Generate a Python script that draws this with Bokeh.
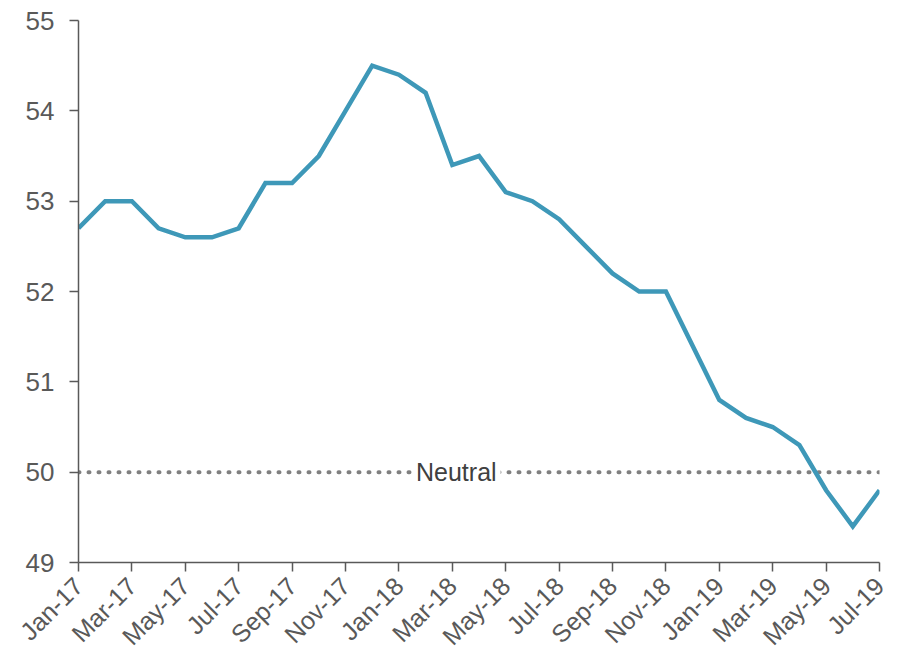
import numpy as np
from bokeh.plotting import figure
from bokeh.models import Range1d, FixedTicker, Label
from bokeh.embed import file_html
from bokeh.resources import INLINE

months = ["Jan-17", "Feb-17", "Mar-17", "Apr-17", "May-17", "Jun-17", "Jul-17", "Aug-17",
          "Sep-17", "Oct-17", "Nov-17", "Dec-17", "Jan-18", "Feb-18", "Mar-18", "Apr-18",
          "May-18", "Jun-18", "Jul-18", "Aug-18", "Sep-18", "Oct-18", "Nov-18", "Dec-18",
          "Jan-19", "Feb-19", "Mar-19", "Apr-19", "May-19", "Jun-19", "Jul-19"]
values = [52.7, 53.0, 53.0, 52.7, 52.6, 52.6, 52.7, 53.2,
          53.2, 53.5, 54.0, 54.5, 54.4, 54.2, 53.4, 53.5,
          53.1, 53.0, 52.8, 52.5, 52.2, 52.0, 52.0, 51.4,
          50.8, 50.6, 50.5, 50.3, 49.8, 49.4, 49.8]
neutral_level = 50
y_ticks = [49, 50, 51, 52, 53, 54, 55]

x = list(range(len(months)))

p = figure(frame_width=801, frame_height=542, output_backend="svg", toolbar_location=None,
           min_border_left=78, min_border_top=20, min_border_right=12, min_border_bottom=80)
p.x_range = Range1d(0, len(months) - 1)
p.y_range = Range1d(min(y_ticks), max(y_ticks))
p.outline_line_color = None
p.xgrid.visible = False
p.ygrid.visible = False
p.background_fill_color = "white"
p.border_fill_color = "white"

# neutral dotted line
p.line([x[0], x[-1]], [neutral_level, neutral_level], line_color="#808080", line_width=4,
       line_dash="1 9", line_cap="round")
lab = Label(x=14.15, y=neutral_level, text="Neutral", text_align="center", text_baseline="middle",
            text_font="Liberation Sans", text_font_size="25px", text_color="#404040",
            background_fill_color="white", padding=4)
p.add_layout(lab)

p.line(x, values, line_color="#3E98B8", line_width=4.5, line_join="miter")

ax = p.xaxis[0]
ax.ticker = FixedTicker(ticks=x[::2])
ax.major_label_overrides = {i: months[i] for i in x[::2]}
ax.major_label_orientation = np.pi / 4
ay = p.yaxis[0]
ay.ticker = FixedTicker(ticks=y_ticks)

for a in (ax, ay):
    a.axis_line_color = "#595959"
    a.axis_line_width = 1.5
    a.major_tick_line_color = "#595959"
    a.major_tick_line_width = 1.5
    a.major_tick_out = 9
    a.major_tick_in = 0
    a.minor_tick_line_color = None
    a.major_label_text_font = "Liberation Sans"
    a.major_label_text_color = "#595959"
ax.major_label_text_font_size = "25px"
ay.major_label_text_font_size = "26px"
ay.major_label_standoff = 15
ax.major_label_standoff = 10

open("out.html", "w").write(file_html(p, INLINE))
